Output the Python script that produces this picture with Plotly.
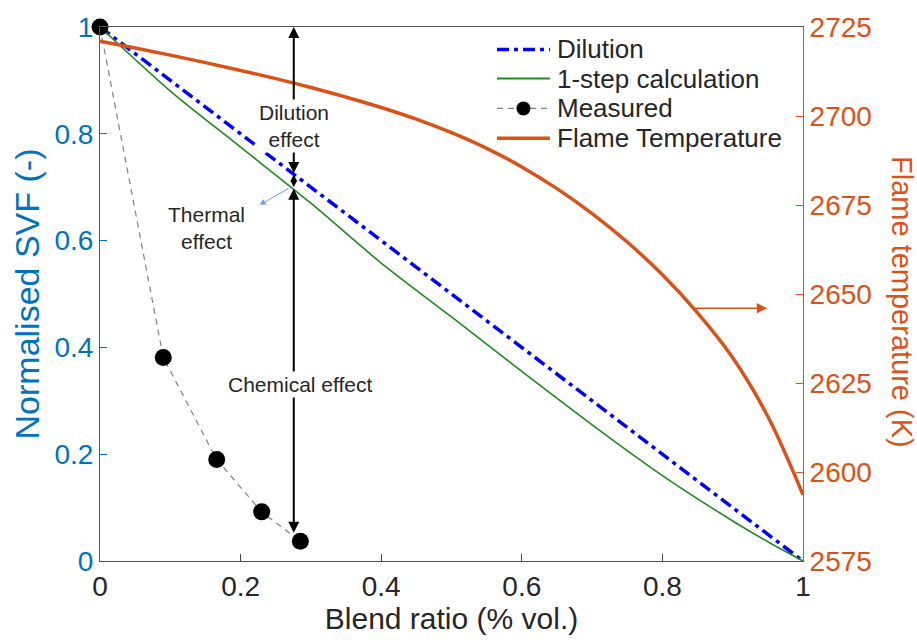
import plotly.graph_objects as go

# Blend ratio grid for the calculated SVF curve
blend = [0.0, 0.1, 0.2, 0.3, 0.4, 0.5, 0.6, 0.7, 0.8, 0.9, 0.95, 1.0]
one_step_svf = [1.0, 0.88, 0.775, 0.67, 0.558, 0.457, 0.355, 0.255, 0.16, 0.075, 0.036, 0.0]

# Adiabatic flame temperature against blend ratio
blend_t = [0.0, 0.05, 0.1, 0.15, 0.2, 0.25, 0.3, 0.35, 0.4, 0.45, 0.5,
           0.55, 0.6, 0.65, 0.7, 0.75, 0.8, 0.85, 0.9, 0.95, 1.0]
flame_temp = [2721.0, 2719.1, 2717.1, 2715.0, 2712.8, 2710.5, 2708.0, 2705.3, 2702.4, 2699.1, 2695.3,
              2690.9, 2685.7, 2679.6, 2672.6, 2664.6, 2655.4, 2644.7, 2632.1, 2615.6, 2593.6]

# Pure dilution: linear drop of SVF with blend ratio
dilution_x = [0.0, 1.0]
dilution_svf = [1.0, 0.0]

# Measured soot volume fraction (normalised)
measured_x = [0.0, 0.09, 0.166, 0.23, 0.285]
measured_svf = [1.0, 0.381, 0.19, 0.092, 0.037]

x_ticks = [0, 0.2, 0.4, 0.6, 0.8, 1]
x_tick_text = ["0", "0.2", "0.4", "0.6", "0.8", "1"]
y_ticks = [0, 0.2, 0.4, 0.6, 0.8, 1]
y_tick_text = ["0", "0.2", "0.4", "0.6", "0.8", "1"]
t_ticks = [2575, 2600, 2625, 2650, 2675, 2700, 2725]

# Effect breakdown at the highest measured blend ratio
effect_x = 0.2756
dil_top, dil_bottom = 1.0, 0.724
thermal_bottom = 0.697
chem_bottom = 0.05

BLUE_AX = "#0072BD"
ORANGE = "#D95319"
GREEN = "#1E8A1E"
FONT = "Liberation Sans, Arial, sans-serif"
TXT = "#262626"

DIL_DASH = "12px,5px,4px,5px"
MEAS_DASH = "6px,5px"

fig = go.Figure()

fig.add_trace(go.Scatter(
    x=dilution_x, y=dilution_svf, name="Dilution", mode="lines",
    line=dict(color="#0000FF", width=3.5, dash=DIL_DASH),
))
fig.add_trace(go.Scatter(
    x=blend, y=one_step_svf, name="1-step calculation", mode="lines",
    line=dict(color=GREEN, width=1.6, shape="spline", smoothing=0.8),
))
fig.add_trace(go.Scatter(
    x=measured_x, y=measured_svf, name="Measured", mode="lines+markers",
    line=dict(color="#808080", width=1.2, dash=MEAS_DASH),
    marker=dict(color="black", size=17),
    cliponaxis=False,
))
fig.add_trace(go.Scatter(
    x=blend_t, y=flame_temp, name="Flame Temperature", mode="lines",
    line=dict(color=ORANGE, width=3.5, shape="spline", smoothing=1.0),
    yaxis="y2",
))

annotations = []


def arrow(x0, y0, x1, y1, color="black", width=2, size=1.0, side="end", yref="y", head=2):
    annotations.append(dict(
        x=x1, y=y1, ax=x0, ay=y0, xref="x", yref=yref, axref="x", ayref=yref,
        text="", showarrow=True, arrowhead=head, startarrowhead=head,
        arrowsize=size, startarrowsize=size, arrowwidth=width,
        arrowcolor=color, arrowside=side, standoff=0, startstandoff=0,
    ))


# Dilution effect, thermal effect and chemical effect arrows
arrow(effect_x, dil_bottom, effect_x, dil_top, width=2, size=1.1, side="end+start")
arrow(effect_x, thermal_bottom, effect_x, dil_bottom, width=1.5, size=0.9, side="end+start")
arrow(effect_x, chem_bottom, effect_x, thermal_bottom, width=2, size=1.1, side="end+start")

# Pointer to the thermal effect label
arrow(0.27, 0.699, 0.227, 0.667, color="#6FA0D8", width=1, size=1.2)

# Arrow tying the flame temperature curve to its axis
arrow(0.84, 2646, 0.949, 2646, color=ORANGE, width=1.3, size=1.6, yref="y2")

label_font = dict(family=FONT, size=21, color=TXT)
annotations += [
    dict(x=effect_x, y=0.815, xref="x", yref="y", text="Dilution<br>effect",
         showarrow=False, font=label_font, bgcolor="white"),
    dict(x=0.285, y=0.331, xref="x", yref="y", text="Chemical effect",
         showarrow=False, font=label_font, bgcolor="white"),
    dict(x=0.151, y=0.624, xref="x", yref="y", text="Thermal<br>effect",
         showarrow=False, font=label_font),
    dict(x=1.0, y=0.5, xref="paper", yref="paper", xanchor="center", yanchor="middle",
         xshift=99, yshift=-8, text="Flame temperature (K)", textangle=90, showarrow=False,
         font=dict(family=FONT, size=29, color=ORANGE)),
]

# Legend, laid out by hand in paper coordinates
legend_rows = [
    ("Dilution", dict(color="#0000FF", width=3.5, dash=DIL_DASH), None),
    ("1-step calculation", dict(color=GREEN, width=2), None),
    ("Measured", dict(color="#808080", width=1.2, dash=MEAS_DASH), "black"),
    ("Flame Temperature", dict(color=ORANGE, width=3.5), None),
]
leg_x0, leg_x1, leg_text_x = 0.5647, 0.640, 0.6466
leg_y = [0.958, 0.9035, 0.8475, 0.7915]

shapes = []
for (label, line_style, dot_color), yy in zip(legend_rows, leg_y):
    shapes.append(dict(type="line", xref="paper", yref="paper",
                       x0=leg_x0, x1=leg_x1, y0=yy, y1=yy, line=line_style))
    if dot_color:
        xm = (leg_x0 + leg_x1) / 2
        shapes.append(dict(type="circle", xref="paper", yref="paper",
                           xsizemode="pixel", ysizemode="pixel", xanchor=xm, yanchor=yy,
                           x0=-7, x1=7, y0=-7, y1=7,
                           fillcolor=dot_color, line=dict(color=dot_color, width=0)))
    annotations.append(dict(x=leg_text_x, y=yy, xref="paper", yref="paper",
                            xanchor="left", yanchor="middle", text=label, showarrow=False,
                            font=dict(family=FONT, size=26, color=TXT)))

fig.update_layout(
    width=917, height=640,
    margin=dict(l=100, r=114, t=27, b=79),
    paper_bgcolor="white", plot_bgcolor="white",
    font=dict(family=FONT, color=TXT),
    showlegend=False,
    xaxis=dict(
        range=[0, 1], tickvals=x_ticks, ticktext=x_tick_text,
        ticks="inside", ticklen=7, tickcolor="#404040",
        showline=True, linecolor="#505050", linewidth=1, mirror=True,
        showgrid=False, zeroline=False,
        tickfont=dict(family=FONT, size=28, color=TXT),
        title=dict(text="Blend ratio (% vol.)", font=dict(family=FONT, size=30, color=TXT), standoff=4),
    ),
    yaxis=dict(
        range=[0, 1], tickvals=y_ticks, ticktext=y_tick_text,
        ticks="inside", ticklen=7, tickcolor=BLUE_AX,
        showline=True, linecolor=BLUE_AX, linewidth=1,
        showgrid=False, zeroline=False,
        tickfont=dict(family=FONT, size=28, color=BLUE_AX),
        title=dict(text="Normalised SVF (-)", font=dict(family=FONT, size=34, color=BLUE_AX), standoff=4),
    ),
    yaxis2=dict(
        range=[2575, 2725], tickvals=t_ticks, overlaying="y", side="right",
        ticks="inside", ticklen=7, tickcolor=ORANGE,
        showline=True, linecolor=ORANGE, linewidth=1,
        showgrid=False, zeroline=False,
        tickfont=dict(family=FONT, size=28, color=ORANGE),
    ),
    shapes=shapes,
    annotations=annotations,
)

fig.write_html("out.html")
